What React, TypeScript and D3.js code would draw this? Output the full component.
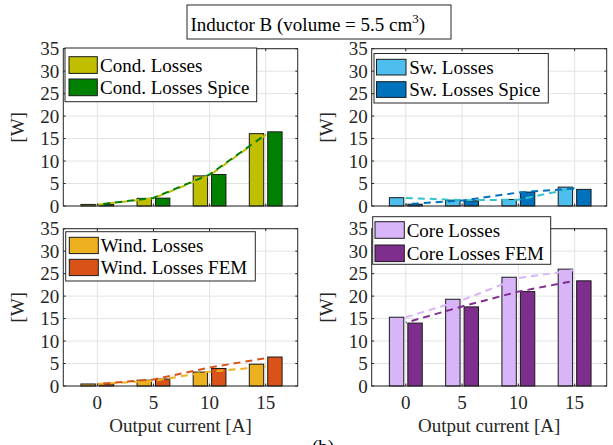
import React from "react";
import * as d3 from "d3";

// ---------- data ----------
const currents = [0, 5, 10, 15];
const yTicks = [0, 5, 10, 15, 20, 25, 30, 35];

const condLosses = [0.35, 1.7, 6.7, 16.1];
const condLossesSpice = [0.35, 1.75, 7.0, 16.5];
const condLine = [0.3, 1.7, 6.8, 15.8];
const condSpiceLine = [0.3, 1.8, 7.0, 15.9];

const swLosses = [1.85, 1.3, 1.45, 4.2];
const swLossesSpice = [0.4, 1.15, 3.1, 3.7];
const swLine = [1.8, 1.3, 1.4, 4.0];
const swSpiceLine = [0.4, 1.2, 3.0, 3.9];

const windLosses = [0.45, 1.3, 3.1, 4.85];
const windLossesFEM = [0.45, 1.55, 3.9, 6.45];
const windLine = [0.45, 1.15, 3.2, 4.3];
const windFEMLine = [0.45, 1.45, 4.1, 6.2];

const coreLosses = [15.3, 19.3, 24.2, 26.0];
const coreLossesFEM = [14.0, 17.6, 21.0, 23.4];
const coreLine = [15.3, 19.1, 24.0, 25.8];
const coreFEMLine = [14.1, 17.7, 21.0, 23.4];

const titleText = "Inductor B (volume = 5.5 cm";
const xLabel = "Output current [A]";
const yLabel = "[W]";

const FONT = '"Liberation Serif", "Times New Roman", serif';

type PanelCfg = {
  x0: number; x1: number; y0: number; y1: number;
  a: number[]; b: number[]; la: number[]; lb: number[];
  ca: string; cb: string; lca: string; lcb: string;
  names: [string, string];
  leg: { x: number; y: number; w: number; h: number; sx: number; sw: number; sy: number[]; sh: number; tx: number };
  xLabels: boolean;
};

function Panel({ c }: { c: PanelCfg }) {
  const x = d3.scaleLinear().domain([-3.03, 17.85]).range([c.x0, c.x1]);
  const y = d3.scaleLinear().domain([0, 35]).range([c.y1, c.y0]);
  const off = 0.82;
  const bw = x(1.28) - x(0);
  const line = d3
    .line<number>()
    .x((_, i) => x(currents[i]))
    .y((d) => y(d));
  const tl = 2.4;
  return (
    <g>
      <rect x={c.x0} y={c.y0} width={c.x1 - c.x0} height={c.y1 - c.y0} fill="white" />
      {currents.map((v) => (
        <line key={"gx" + v} x1={x(v)} x2={x(v)} y1={c.y0} y2={c.y1} stroke="#e3e3e3" strokeWidth={1} />
      ))}
      {yTicks.map((v) => (
        <line key={"gy" + v} x1={c.x0} x2={c.x1} y1={y(v)} y2={y(v)} stroke="#e3e3e3" strokeWidth={1} />
      ))}
      {currents.map((v, i) => (
        <g key={"b" + v}>
          <rect x={x(v - off) - bw / 2} y={y(c.a[i])} width={bw} height={y(0) - y(c.a[i])} fill={c.ca} stroke="#1a1a1a" strokeWidth={1} />
          <rect x={x(v + off) - bw / 2} y={y(c.b[i])} width={bw} height={y(0) - y(c.b[i])} fill={c.cb} stroke="#1a1a1a" strokeWidth={1} />
        </g>
      ))}
      <path d={line(c.la) || ""} fill="none" stroke={c.lca} strokeWidth={2} strokeDasharray="7 5" />
      <path d={line(c.lb) || ""} fill="none" stroke={c.lcb} strokeWidth={2} strokeDasharray="7 5" strokeDashoffset={6} />
      {currents.map((v) => (
        <g key={"tx" + v}>
          <line x1={x(v)} x2={x(v)} y1={c.y1} y2={c.y1 - tl} stroke="#262626" />
          <line x1={x(v)} x2={x(v)} y1={c.y0} y2={c.y0 + tl} stroke="#262626" />
        </g>
      ))}
      {yTicks.map((v) => (
        <g key={"ty" + v}>
          <line x1={c.x0} x2={c.x0 + tl} y1={y(v)} y2={y(v)} stroke="#262626" />
          <line x1={c.x1} x2={c.x1 - tl} y1={y(v)} y2={y(v)} stroke="#262626" />
          <text x={c.x0 - 4} y={y(v) + 6.5} textAnchor="end" fontSize={19} fontFamily={FONT} fill="#262626">
            {v}
          </text>
        </g>
      ))}
      <rect x={c.x0} y={c.y0} width={c.x1 - c.x0} height={c.y1 - c.y0} fill="none" stroke="#262626" strokeWidth={1} />
      <text
        transform={`translate(${c.x0 - 39},${(c.y0 + c.y1) / 2}) rotate(-90)`}
        textAnchor="middle"
        fontSize={19}
        fontFamily={FONT}
        fill="#262626"
      >
        {yLabel}
      </text>
      {c.xLabels && (
        <g>
          {currents.map((v) => (
            <text key={"xl" + v} x={x(v)} y={c.y1 + 23} textAnchor="middle" fontSize={19} fontFamily={FONT} fill="#262626">
              {v}
            </text>
          ))}
          <text x={(c.x0 + c.x1) / 2} y={c.y1 + 46} textAnchor="middle" fontSize={19} fontFamily={FONT} fill="#262626">
            {xLabel}
          </text>
        </g>
      )}
      <rect x={c.leg.x} y={c.leg.y} width={c.leg.w} height={c.leg.h} fill="white" stroke="#262626" strokeWidth={1} />
      {[0, 1].map((k) => (
        <g key={"lg" + k}>
          <rect x={c.leg.sx} y={c.leg.sy[k]} width={c.leg.sw} height={c.leg.sh} fill={k === 0 ? c.ca : c.cb} stroke="#1a1a1a" strokeWidth={1} />
          <text x={c.leg.tx} y={c.leg.sy[k] + c.leg.sh / 2 + 6.5} fontSize={19} fontFamily={FONT} fill="#000">
            {c.names[k]}
          </text>
        </g>
      ))}
    </g>
  );
}

export default function App() {
  const L = [63.3, 297.7];
  const R = [371.7, 606.7];
  const T = [48.7, 206];
  const B = [228.7, 386];
  const panels: PanelCfg[] = [
    {
      x0: L[0], x1: L[1], y0: T[0], y1: T[1],
      a: condLosses, b: condLossesSpice, la: condLine, lb: condSpiceLine,
      ca: "#BFBF00", cb: "#008000", lca: "#BFBF00", lcb: "#008000",
      names: ["Cond. Losses", "Cond. Losses Spice"],
      leg: { x: 65, y: 48, w: 191.7, h: 53.7, sx: 69, sw: 28.3, sy: [56.7, 79], sh: 16.7, tx: 100 },
      xLabels: false,
    },
    {
      x0: R[0], x1: R[1], y0: T[0], y1: T[1],
      a: swLosses, b: swLossesSpice, la: swLine, lb: swSpiceLine,
      ca: "#4DBEEE", cb: "#0072BD", lca: "#35C2CF", lcb: "#0072BD",
      names: ["Sw. Losses", "Sw. Losses Spice"],
      leg: { x: 374, y: 53.5, w: 174.3, h: 49.5, sx: 376.5, sw: 29.5, sy: [59.3, 81.7], sh: 15.7, tx: 409.3 },
      xLabels: false,
    },
    {
      x0: L[0], x1: L[1], y0: B[0], y1: B[1],
      a: windLosses, b: windLossesFEM, la: windLine, lb: windFEMLine,
      ca: "#EDB120", cb: "#D95319", lca: "#EDB120", lcb: "#D95319",
      names: ["Wind. Losses", "Wind. Losses FEM"],
      leg: { x: 65.7, y: 231.7, w: 189.6, h: 49.3, sx: 69.3, sw: 29, sy: [237.3, 259.3], sh: 16.3, tx: 100.7 },
      xLabels: true,
    },
    {
      x0: R[0], x1: R[1], y0: B[0], y1: B[1],
      a: coreLosses, b: coreLossesFEM, la: coreLine, lb: coreFEMLine,
      ca: "#D8B4F8", cb: "#7E2F8E", lca: "#D8B4F8", lcb: "#7E2F8E",
      names: ["Core Losses", "Core Losses FEM"],
      leg: { x: 372.7, y: 216.7, w: 178, h: 47.6, sx: 375, sw: 29.3, sy: [221.7, 245], sh: 16.6, tx: 406.7 },
      xLabels: true,
    },
  ];
  return (
    <svg width={613} height={445} style={{ position: "absolute", left: 0, top: 0, background: "white" }}>
      <rect x={0} y={0} width={613} height={445} fill="white" />
      {panels.map((p, i) => (
        <Panel key={i} c={p} />
      ))}
      <rect x={187} y={5} width={264} height={34} fill="white" stroke="#262626" strokeWidth={1} />
      <text x={190.5} y={31} fontSize={19} fontFamily={FONT} fill="#000">
        {titleText}
        <tspan dy={-8} fontSize={13}>3</tspan>
        <tspan dy={8}>)</tspan>
      </text>
      <text x={323} y={453} textAnchor="middle" fontSize={19} fontFamily={FONT} fill="#000">
        (b)
      </text>
    </svg>
  );
}
